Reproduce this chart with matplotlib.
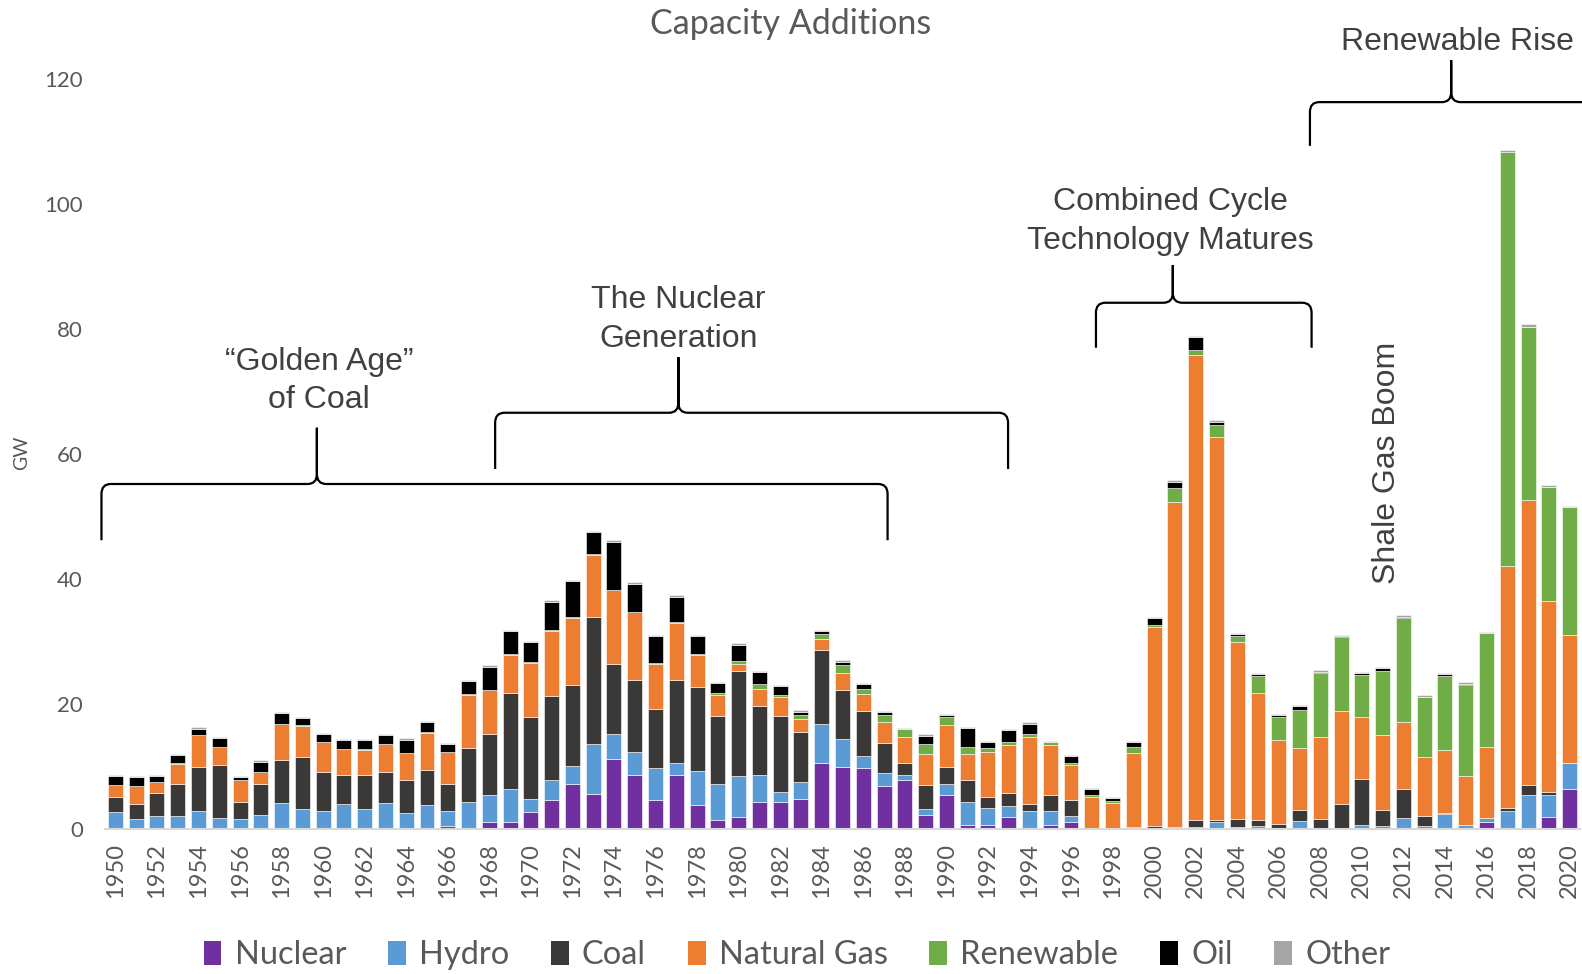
import matplotlib
matplotlib.use("Agg")
import matplotlib.pyplot as plt
from matplotlib.patches import Patch, PathPatch
from matplotlib.path import Path
import numpy as np

plt.rcParams['font.family'] = ['Lato', 'DejaVu Sans']

years = list(range(1950, 2021))

nuclear = [0, 0, 0, 0, 0, 0, 0, 0, 0, 0,
           0, 0, 0, 0, 0, 0, 0.5, 0, 1.1, 1.1,
           2.7, 4.6, 7.25, 5.6, 11.2, 8.7, 4.6, 8.7, 3.8, 1.5,
           1.9, 4.4, 4.4, 4.8, 10.5, 9.9, 9.7, 6.85, 7.85, 2.3,
           5.45, 0.7, 0.7, 1.9, 0, 0.7, 1.1, 0, 0, 0,
           0, 0, 0, 0, 0, 0, 0, 0, 0, 0,
           0, 0, 0, 0, 0, 0, 1.05, 0, 0, 1.85, 6.45]

hydro = [2.7, 1.6, 2.1, 2.1, 2.9, 1.7, 1.55, 2.3, 4.15, 3.15,
         2.9, 3.95, 3.15, 4.15, 2.5, 3.8, 2.4, 4.4, 4.3, 5.3,
         2.05, 3.25, 2.9, 8.0, 4.05, 3.7, 5.1, 1.8, 5.5, 5.75,
         6.6, 4.3, 1.6, 2.65, 6.35, 4.5, 2.05, 2.05, 0.8, 0.85,
         1.8, 3.7, 2.6, 1.85, 2.95, 2.25, 1.0, 0, 0, 0,
         0, 0, 0.3, 1.2, 0.3, 0.55, 0, 1.35, 0, 0,
         0.65, 0.55, 1.7, 0.55, 2.35, 0.65, 0.65, 2.9, 5.4, 3.55, 4.1]

coal = [2.5, 2.4, 3.7, 5.15, 7.0, 8.6, 2.85, 4.95, 6.95, 8.45,
        6.15, 4.75, 5.55, 4.9, 5.4, 5.7, 4.35, 8.55, 9.85, 15.4,
        13.1, 13.45, 12.9, 20.3, 11.1, 11.45, 9.45, 13.35, 13.5, 10.9,
        16.8, 11.05, 12.15, 8.0, 11.75, 7.8, 7.2, 4.9, 1.9, 3.9,
        2.65, 3.5, 1.9, 2.05, 1.0, 2.45, 2.55, 0, 0, 0.4,
        0.55, 0.3, 1.1, 0.2, 1.35, 0.85, 0.75, 1.65, 1.6, 3.95,
        7.4, 2.45, 4.75, 1.6, 0.25, 0, 0, 0.45, 1.65, 0.6, 0]

natural_gas = [1.8, 2.85, 1.7, 3.1, 5.1, 2.8, 3.5, 1.85, 5.75, 4.95,
               4.8, 4.05, 3.95, 4.55, 4.25, 5.85, 5.0, 8.55, 6.95, 6.05,
               8.75, 10.4, 10.65, 9.95, 11.85, 10.8, 7.25, 9.1, 5.05, 3.3,
               1.05, 2.65, 2.9, 2.1, 1.8, 2.7, 2.7, 3.25, 4.1, 4.95,
               6.8, 4.1, 7.2, 7.6, 10.7, 8.0, 5.55, 5.05, 4.2, 11.8,
               31.85, 52.1, 74.5, 61.4, 28.35, 20.4, 13.45, 10.0, 13.1, 14.95,
               9.85, 12.0, 10.65, 9.45, 10.0, 7.85, 11.5, 38.75, 45.65, 30.5, 20.45]

renewable = [0.1, 0.1, 0.1, 0.15, 0.05, 0.1, 0, 0.1, 0, 0.15,
             0.15, 0.05, 0.1, 0, 0.05, 0.15, 0.15, 0.15, 0.1, 0.15,
             0.1, 0.15, 0.2, 0.15, 0.05, 0.05, 0.1, 0.15, 0.15, 0.35,
             0.55, 0.85, 0.45, 0.75, 0.8, 1.4, 0.75, 1.25, 1.3, 1.6,
             1.15, 1.2, 0.6, 0.6, 0.6, 0.5, 0.35, 0.35, 0.3, 1.0,
             0.3, 2.2, 0.8, 1.9, 0.9, 2.7, 3.7, 6.1, 10.2, 11.8,
             6.8, 10.3, 16.7, 9.6, 11.9, 14.5, 18.2, 66.3, 27.7, 18.3, 20.5]

oil = [1.4, 1.4, 0.9, 1.3, 1.0, 1.4, 0.35, 1.6, 1.75, 1.0,
       1.15, 1.45, 1.5, 1.4, 2.1, 1.6, 1.2, 2.05, 3.7, 3.7,
       3.2, 4.55, 5.8, 3.45, 7.75, 4.55, 4.4, 4.1, 2.9, 1.55,
       2.6, 1.85, 1.4, 0.5, 0.5, 0.5, 0.75, 0.4, 0, 1.35,
       0.4, 2.9, 0.85, 1.85, 1.6, 0, 1.15, 0.95, 0.45, 0.7,
       1.1, 1.0, 2.0, 0.5, 0.3, 0.3, 0.3, 0.55, 0.3, 0.2,
       0.3, 0.5, 0.2, 0, 0.25, 0.25, 0, 0, 0, 0, 0]

other = [0.2, 0.2, 0.2, 0.2, 0.2, 0.2, 0.2, 0.2, 0.2, 0.2,
         0.2, 0.2, 0.2, 0.2, 0.2, 0.2, 0.2, 0.2, 0.2, 0.2,
         0.2, 0.2, 0.2, 0.2, 0.2, 0.2, 0.2, 0.2, 0.2, 0.2,
         0.2, 0.2, 0.2, 0.2, 0.2, 0.2, 0.2, 0.2, 0.2, 0.2,
         0.2, 0.2, 0.2, 0.2, 0.2, 0.2, 0.2, 0.2, 0.2, 0.2,
         0.2, 0.2, 0.2, 0.2, 0.2, 0.2, 0.2, 0.2, 0.2, 0.2,
         0.2, 0.2, 0.2, 0.2, 0.2, 0.2, 0.2, 0.3, 0.4, 0.2, 0.2]

series_names = ['Nuclear', 'Hydro', 'Coal', 'Natural Gas', 'Renewable', 'Oil', 'Other']
series_values = [nuclear, hydro, coal, natural_gas, renewable, oil, other]
series_colors = ['#7030A0', '#5B9BD5', '#3B3838', '#ED7D31', '#70AD47', '#000000', '#A5A5A5']

W, H = 1582, 974
fig = plt.figure(figsize=(W / 100, H / 100), dpi=100)
ax = fig.add_axes([105 / W, 1 - 829 / H, (1580 - 105) / W, 750 / H])

bottom = np.zeros(len(years))
for name, vals, col in zip(series_names, series_values, series_colors):
    v = np.array(vals, dtype=float)
    ax.bar(years, v, width=0.72, bottom=bottom, color=col,
           edgecolor='white', linewidth=0.4, label=name)
    bottom += v

ax.set_xlim(1949.5, 2020.5)
ax.set_ylim(0, 120)
ax.set_yticks(range(0, 121, 20))
ax.set_xticks(years[::2])
ax.set_xticklabels([str(y) for y in years[::2]], rotation=90)
ax.tick_params(axis='y', length=0, pad=16, labelsize=16, labelcolor='#595959')
ax.tick_params(axis='x', length=0, pad=10, labelsize=17, labelcolor='#595959')
for s in ['top', 'right', 'left']:
    ax.spines[s].set_visible(False)
ax.spines['bottom'].set_color('#D9D9D9')
ax.spines['bottom'].set_linewidth(1.5)

fig.text(791 / W, 1 - 24 / H, 'Capacity Additions', ha='center', va='center',
         fontsize=24.5, color='#595959')
fig.text(22 / W, 1 - 453 / H, 'GW', rotation=90, ha='center', va='center',
         fontsize=14, color='#595959')


def brace(x0, x1, xt, ybar, yend, ytip, rx=0.45, ry=1.6):
    verts = [(x0, yend), (x0, ybar - ry), (x0, ybar), (x0 + rx, ybar),
             (xt - rx, ybar), (xt, ybar), (xt, ybar + ry), (xt, ytip),
             (xt, ybar + ry), (xt, ybar), (xt + rx, ybar),
             (x1 - rx, ybar), (x1, ybar), (x1, ybar - ry), (x1, yend)]
    codes = [Path.MOVETO, Path.LINETO, Path.CURVE3, Path.CURVE3,
             Path.LINETO, Path.CURVE3, Path.CURVE3, Path.LINETO,
             Path.LINETO, Path.CURVE3, Path.CURVE3,
             Path.LINETO, Path.CURVE3, Path.CURVE3, Path.LINETO]
    p = PathPatch(Path(verts, codes), facecolor='none', edgecolor='black',
                  lw=1.6, clip_on=False, transform=ax.transData)
    ax.add_patch(p)


brace(1949.33, 1987.17, 1959.7, 55.2, 46.2, 64.2)
brace(1968.28, 1992.97, 1977.1, 66.6, 57.6, 75.5)
brace(1997.2, 2007.58, 2000.9, 84.2, 77.0, 90.2)
brace(2007.5, 2023.0, 2014.3, 116.3, 109.3, 123.0)

ann = dict(ha='center', va='center', fontsize=23, color='#404040',
           family=['Liberation Sans', 'DejaVu Sans'], linespacing=1.38, clip_on=False)
ax.text(1959.8, 71.7, '\u201cGolden Age\u201d\nof Coal', **ann)
ax.text(1977.1, 81.5, 'The Nuclear\nGeneration', **ann)
ax.text(2000.8, 97.2, 'Combined Cycle\nTechnology Matures', **ann)
ax.text(2014.6, 125.9, 'Renewable Rise', **ann)
ax.text(2011.2, 58.6, 'Shale Gas Boom', rotation=90, **ann)

handles = [Patch(facecolor=c, edgecolor='none') for c in series_colors]
fig.legend(handles, series_names, loc='center', bbox_to_anchor=(797 / W, 1 - 955 / H),
           ncol=7, frameon=False, fontsize=23.5, handlelength=0.55, handleheight=0.75,
           handletextpad=0.4, columnspacing=1.28, labelcolor='#595959')

fig.savefig('out.png', dpi=100)
